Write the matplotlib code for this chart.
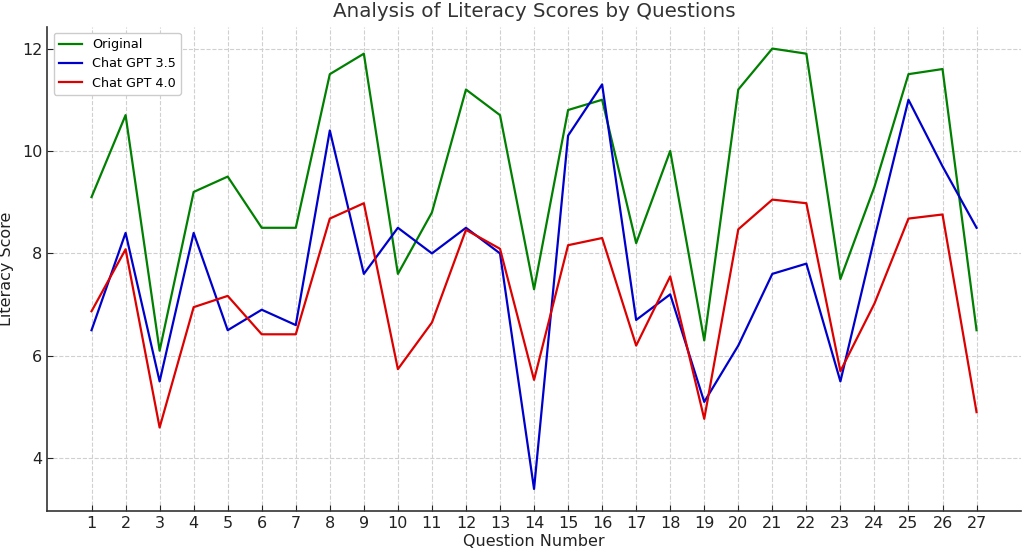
import matplotlib.pyplot as plt

questions = list(range(1, 28))
original = [9.1, 10.7, 6.1, 9.2, 9.5, 8.5, 8.5, 11.5, 11.9, 7.6, 8.8, 11.2, 10.7, 7.3,
            10.8, 11.0, 8.2, 10.0, 6.3, 11.2, 12.0, 11.9, 7.5, 9.3, 11.5, 11.6, 6.5]
gpt35 = [6.5, 8.4, 5.5, 8.4, 6.5, 6.9, 6.6, 10.4, 7.6, 8.5, 8.0, 8.5, 8.0, 3.4,
         10.3, 11.3, 6.7, 7.2, 5.1, 6.2, 7.6, 7.8, 5.5, 8.3, 11.0, 9.7, 8.5]
gpt40 = [6.87, 8.08, 4.6, 6.95, 7.17, 6.42, 6.42, 8.68, 8.98, 5.74, 6.65, 8.46, 8.09, 5.53,
         8.16, 8.3, 6.2, 7.55, 4.77, 8.47, 9.05, 8.98, 5.7, 7.02, 8.68, 8.76, 4.9]

fig = plt.figure(figsize=(10.28, 5.53), dpi=100)
ax = fig.add_axes([0.046, 0.076, 0.947, 0.876])

ax.plot(questions, original, color="green", linewidth=1.6, label="Original")
ax.plot(questions, gpt35, color="#0000cc", linewidth=1.6, label="Chat GPT 3.5")
ax.plot(questions, gpt40, color="#dd0000", linewidth=1.6, label="Chat GPT 4.0")

ax.set_title("Analysis of Literacy Scores by Questions", fontsize=14.3, color="#333333", pad=7)
ax.set_xlabel("Question Number", fontsize=11.5, color="#222222", labelpad=2)
ax.set_ylabel("Literacy Score", fontsize=11.5, color="#222222", labelpad=6)
ax.set_xticks(questions)
ax.set_yticks([4, 6, 8, 10, 12])
ax.tick_params(direction="in", labelsize=11.5, colors="#222222", length=4)

ax.grid(True, linestyle="--", color="#d0d0d0", linewidth=0.8)
for side in ["top", "right"]:
    ax.spines[side].set_visible(False)
for side in ["left", "bottom"]:
    ax.spines[side].set_color("#333333")
    ax.spines[side].set_linewidth(1.2)

ax.legend(loc="upper left", fontsize=9.2, framealpha=1, edgecolor="#cccccc",
          handlelength=1.8)

plt.savefig("out.png")
